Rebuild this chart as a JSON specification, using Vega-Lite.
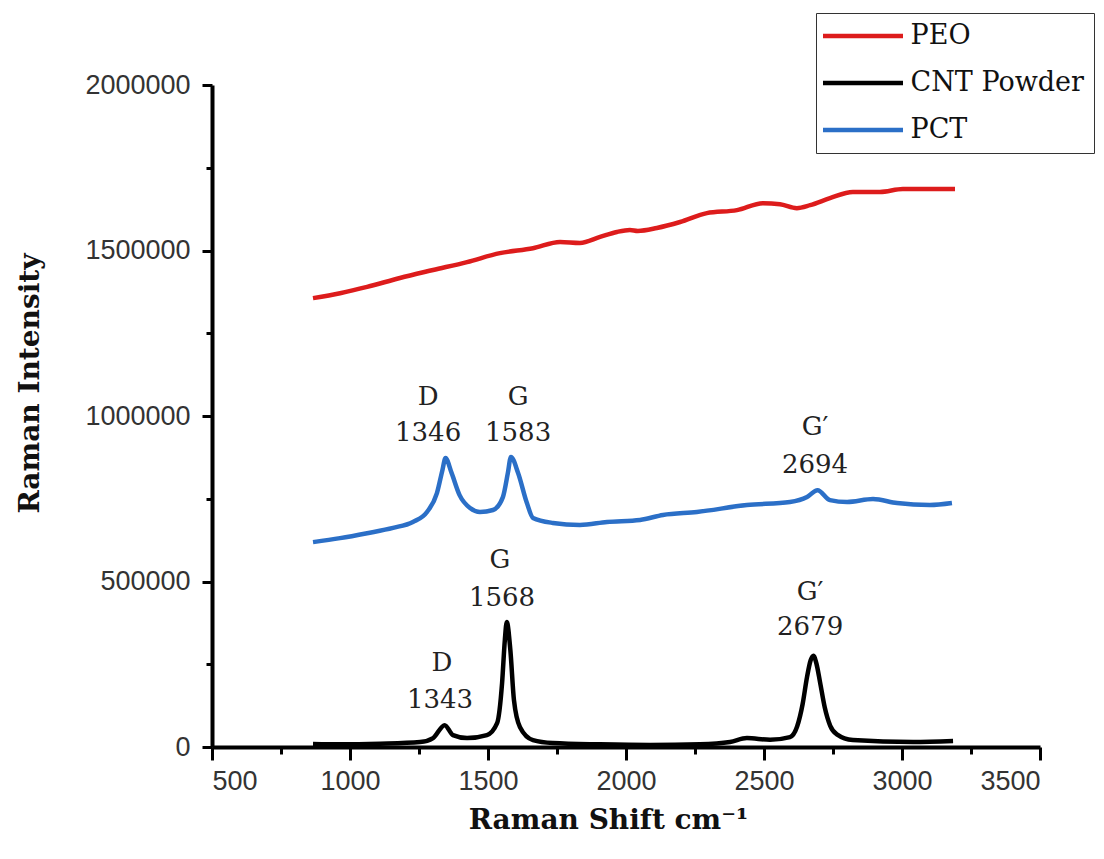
{
  "$schema": "https://vega.github.io/schema/vega-lite/v6.json",
  "width": 828,
  "height": 662,
  "autosize": "none",
  "padding": {"left": 212, "top": 85, "right": 64, "bottom": 112},
  "background": "white",
  "config": {"view": {"stroke": null}},
  "datasets": {
    "spectra": [
      {"series": "PEO", "shift": 866, "intensity": 1356000},
      {"series": "PEO", "shift": 964, "intensity": 1371000},
      {"series": "PEO", "shift": 1062, "intensity": 1390000},
      {"series": "PEO", "shift": 1181, "intensity": 1417000},
      {"series": "PEO", "shift": 1301, "intensity": 1441000},
      {"series": "PEO", "shift": 1424, "intensity": 1465000},
      {"series": "PEO", "shift": 1543, "intensity": 1492000},
      {"series": "PEO", "shift": 1663, "intensity": 1507000},
      {"series": "PEO", "shift": 1761, "intensity": 1526000},
      {"series": "PEO", "shift": 1833, "intensity": 1523000},
      {"series": "PEO", "shift": 1906, "intensity": 1541000},
      {"series": "PEO", "shift": 1967, "intensity": 1556000},
      {"series": "PEO", "shift": 2014, "intensity": 1562000},
      {"series": "PEO", "shift": 2043, "intensity": 1559000},
      {"series": "PEO", "shift": 2112, "intensity": 1568000},
      {"series": "PEO", "shift": 2196, "intensity": 1586000},
      {"series": "PEO", "shift": 2293, "intensity": 1613000},
      {"series": "PEO", "shift": 2402, "intensity": 1622000},
      {"series": "PEO", "shift": 2496, "intensity": 1643000},
      {"series": "PEO", "shift": 2558, "intensity": 1640000},
      {"series": "PEO", "shift": 2619, "intensity": 1628000},
      {"series": "PEO", "shift": 2667, "intensity": 1637000},
      {"series": "PEO", "shift": 2739, "intensity": 1658000},
      {"series": "PEO", "shift": 2822, "intensity": 1677000},
      {"series": "PEO", "shift": 2920, "intensity": 1677000},
      {"series": "PEO", "shift": 3003, "intensity": 1686000},
      {"series": "PEO", "shift": 3192, "intensity": 1686000},

      {"series": "CNT Powder", "shift": 866, "intensity": 9000},
      {"series": "CNT Powder", "shift": 964, "intensity": 8000},
      {"series": "CNT Powder", "shift": 1109, "intensity": 10000},
      {"series": "CNT Powder", "shift": 1254, "intensity": 15000},
      {"series": "CNT Powder", "shift": 1301, "intensity": 27000},
      {"series": "CNT Powder", "shift": 1343, "intensity": 66000},
      {"series": "CNT Powder", "shift": 1373, "intensity": 36000},
      {"series": "CNT Powder", "shift": 1424, "intensity": 27000},
      {"series": "CNT Powder", "shift": 1496, "intensity": 36000},
      {"series": "CNT Powder", "shift": 1533, "intensity": 72000},
      {"series": "CNT Powder", "shift": 1551, "intensity": 193000},
      {"series": "CNT Powder", "shift": 1561, "intensity": 323000},
      {"series": "CNT Powder", "shift": 1568, "intensity": 378000},
      {"series": "CNT Powder", "shift": 1581, "intensity": 293000},
      {"series": "CNT Powder", "shift": 1594, "intensity": 142000},
      {"series": "CNT Powder", "shift": 1616, "intensity": 60000},
      {"series": "CNT Powder", "shift": 1663, "intensity": 21000},
      {"series": "CNT Powder", "shift": 1735, "intensity": 12000},
      {"series": "CNT Powder", "shift": 1906, "intensity": 8000},
      {"series": "CNT Powder", "shift": 2087, "intensity": 6000},
      {"series": "CNT Powder", "shift": 2268, "intensity": 8000},
      {"series": "CNT Powder", "shift": 2377, "intensity": 15000},
      {"series": "CNT Powder", "shift": 2438, "intensity": 27000},
      {"series": "CNT Powder", "shift": 2522, "intensity": 22000},
      {"series": "CNT Powder", "shift": 2594, "intensity": 30000},
      {"series": "CNT Powder", "shift": 2620, "intensity": 62000},
      {"series": "CNT Powder", "shift": 2640, "intensity": 130000},
      {"series": "CNT Powder", "shift": 2656, "intensity": 212000},
      {"series": "CNT Powder", "shift": 2669, "intensity": 262000},
      {"series": "CNT Powder", "shift": 2679, "intensity": 276000},
      {"series": "CNT Powder", "shift": 2690, "intensity": 252000},
      {"series": "CNT Powder", "shift": 2703, "intensity": 196000},
      {"series": "CNT Powder", "shift": 2720, "intensity": 120000},
      {"series": "CNT Powder", "shift": 2740, "intensity": 64000},
      {"series": "CNT Powder", "shift": 2764, "intensity": 38000},
      {"series": "CNT Powder", "shift": 2822, "intensity": 21000},
      {"series": "CNT Powder", "shift": 3040, "intensity": 15000},
      {"series": "CNT Powder", "shift": 3185, "intensity": 18000},

      {"series": "PCT", "shift": 866, "intensity": 619000},
      {"series": "PCT", "shift": 964, "intensity": 631000},
      {"series": "PCT", "shift": 1062, "intensity": 646000},
      {"series": "PCT", "shift": 1156, "intensity": 662000},
      {"series": "PCT", "shift": 1228, "intensity": 680000},
      {"series": "PCT", "shift": 1279, "intensity": 710000},
      {"series": "PCT", "shift": 1315, "intensity": 767000},
      {"series": "PCT", "shift": 1335, "intensity": 837000},
      {"series": "PCT", "shift": 1346, "intensity": 873000},
      {"series": "PCT", "shift": 1368, "intensity": 828000},
      {"series": "PCT", "shift": 1397, "intensity": 761000},
      {"series": "PCT", "shift": 1435, "intensity": 722000},
      {"series": "PCT", "shift": 1471, "intensity": 710000},
      {"series": "PCT", "shift": 1518, "intensity": 716000},
      {"series": "PCT", "shift": 1554, "intensity": 755000},
      {"series": "PCT", "shift": 1572, "intensity": 828000},
      {"series": "PCT", "shift": 1583, "intensity": 876000},
      {"series": "PCT", "shift": 1609, "intensity": 828000},
      {"series": "PCT", "shift": 1641, "intensity": 737000},
      {"series": "PCT", "shift": 1663, "intensity": 692000},
      {"series": "PCT", "shift": 1735, "intensity": 677000},
      {"series": "PCT", "shift": 1833, "intensity": 671000},
      {"series": "PCT", "shift": 1931, "intensity": 680000},
      {"series": "PCT", "shift": 2051, "intensity": 686000},
      {"series": "PCT", "shift": 2134, "intensity": 701000},
      {"series": "PCT", "shift": 2257, "intensity": 710000},
      {"series": "PCT", "shift": 2438, "intensity": 731000},
      {"series": "PCT", "shift": 2594, "intensity": 740000},
      {"series": "PCT", "shift": 2656, "intensity": 755000},
      {"series": "PCT", "shift": 2694, "intensity": 776000},
      {"series": "PCT", "shift": 2739, "intensity": 746000},
      {"series": "PCT", "shift": 2801, "intensity": 740000},
      {"series": "PCT", "shift": 2895, "intensity": 749000},
      {"series": "PCT", "shift": 2982, "intensity": 737000},
      {"series": "PCT", "shift": 3101, "intensity": 731000},
      {"series": "PCT", "shift": 3181, "intensity": 737000}
    ],
    "labels": [
      {"text": "D", "shift": 1283, "intensity": 1057000},
      {"text": "1346", "shift": 1283, "intensity": 949000},
      {"text": "G", "shift": 1609, "intensity": 1057000},
      {"text": "1583", "shift": 1609, "intensity": 949000},
      {"text": "G′", "shift": 2685, "intensity": 967000},
      {"text": "2694", "shift": 2685, "intensity": 852000},
      {"text": "G", "shift": 1543, "intensity": 565000},
      {"text": "1568", "shift": 1551, "intensity": 450000},
      {"text": "D", "shift": 1333, "intensity": 254000},
      {"text": "1343", "shift": 1326, "intensity": 142000},
      {"text": "G′", "shift": 2667, "intensity": 468000},
      {"text": "2679", "shift": 2667, "intensity": 362000}
    ]
  },
  "layer": [
    {
      "data": {"name": "spectra"},
      "mark": {"type": "line", "strokeWidth": 4.5, "interpolate": "monotone"},
      "encoding": {
        "x": {
          "field": "shift", "type": "quantitative",
          "scale": {"domain": [500, 3500], "nice": false, "zero": false},
          "axis": {
            "orient": "bottom",
            "values": [500, 1000, 1500, 2000, 2500, 3000, 3500],
            "format": "d",
            "grid": false,
            "domainColor": "#000", "domainWidth": 4,
            "tickColor": "#000", "tickWidth": 3, "tickSize": 13,
            "labelFont": "Liberation Sans", "labelFontSize": 27, "labelColor": "#333",
            "labelPadding": 8,
            "title": "Raman Shift cm⁻¹",
            "titleFont": "DejaVu Serif", "titleFontSize": 28, "titleFontWeight": "bold",
            "titleColor": "#111",
            "titleX": 396, "titleY": 73, "titleBaseline": "middle", "titleAlign": "center"
          }
        },
        "y": {
          "field": "intensity", "type": "quantitative",
          "scale": {"domain": [0, 2000000], "nice": false},
          "axis": {
            "orient": "left",
            "values": [0, 500000, 1000000, 1500000, 2000000],
            "format": "d",
            "grid": false,
            "domainColor": "#000", "domainWidth": 4,
            "tickColor": "#000", "tickWidth": 3, "tickSize": 10,
            "labelFont": "Liberation Sans", "labelFontSize": 27, "labelColor": "#333",
            "labelPadding": 12,
            "title": "Raman Intensity",
            "titleFont": "DejaVu Serif", "titleFontSize": 28, "titleFontWeight": "bold",
            "titleColor": "#111",
            "titleX": -182, "titleY": 298, "titleAngle": -90,
            "titleBaseline": "middle", "titleAlign": "center"
          }
        },
        "color": {
          "field": "series", "type": "nominal",
          "scale": {"domain": ["PEO", "CNT Powder", "PCT"], "range": ["#dd1c1c", "#000000", "#2b6fc7"]},
          "legend": {
            "title": null,
            "orient": "none",
            "legendX": 604, "legendY": -72,
            "direction": "vertical",
            "padding": 9.5,
            "strokeColor": "#333", "fillColor": "white",
            "symbolType": "M-1.6,0H6.4",
            "symbolSize": 400,
            "symbolStrokeWidth": 4.5,
            "labelOffset": 58,
            "labelFont": "DejaVu Serif", "labelFontSize": 27, "labelColor": "#111",
            "labelLimit": 400,
            "rowPadding": 19
          }
        },
        "detail": {"field": "series"}
      }
    },
    {
      "data": {"name": "labels"},
      "mark": {"type": "text", "font": "DejaVu Serif", "fontSize": 26, "color": "#222", "align": "center", "baseline": "middle"},
      "encoding": {
        "x": {"field": "shift", "type": "quantitative", "axis": null},
        "y": {"field": "intensity", "type": "quantitative", "axis": null},
        "text": {"field": "text"}
      }
    },
    {
      "data": {"name": "spectra"},
      "mark": {"type": "line", "opacity": 0},
      "encoding": {
        "x": {
          "field": "shift", "type": "quantitative",
          "axis": {
            "orient": "bottom",
            "values": [750, 1250, 1750, 2250, 2750, 3250],
            "grid": false, "domain": false, "labels": false, "title": null,
            "tickColor": "#000", "tickWidth": 3, "tickSize": 7
          }
        },
        "y": {
          "field": "intensity", "type": "quantitative",
          "axis": {
            "orient": "left",
            "values": [250000, 750000, 1250000, 1750000],
            "grid": false, "domain": false, "labels": false, "title": null,
            "tickColor": "#000", "tickWidth": 3, "tickSize": 6
          }
        },
        "detail": {"field": "series"}
      }
    }
  ],
  "resolve": {"axis": {"x": "independent", "y": "independent"}}
}
